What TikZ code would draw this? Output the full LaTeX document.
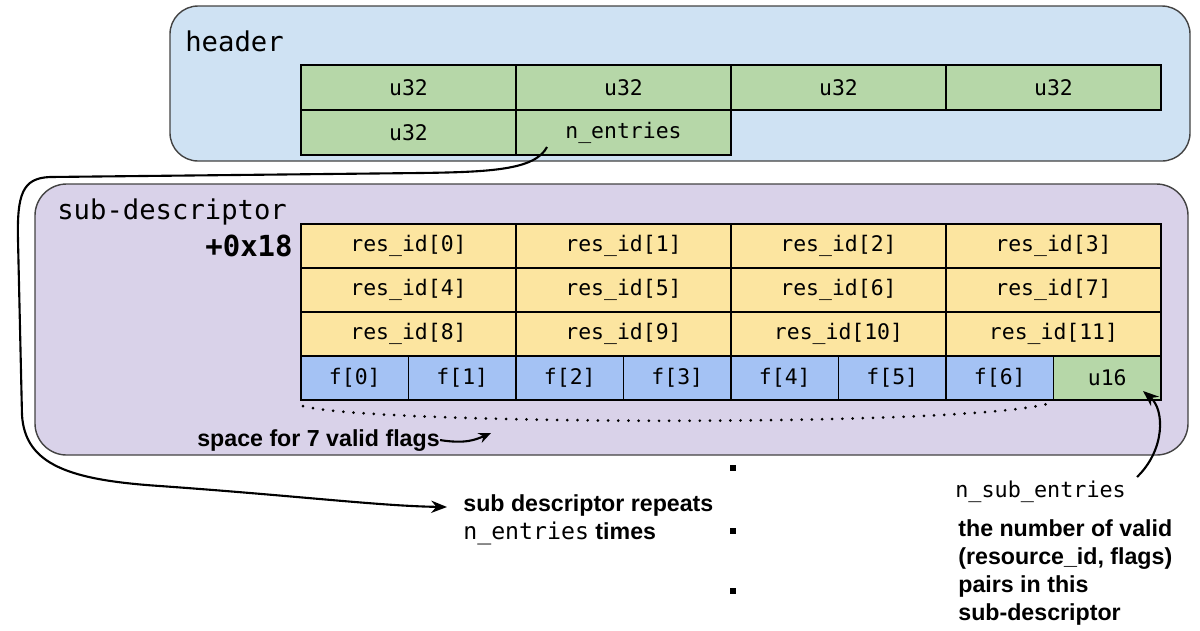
\documentclass[tikz,border=0pt]{standalone}
\usepackage{fontspec}
\setmainfont{Liberation Sans}
\newfontfamily\cellfont{DejaVu Sans Mono}
\usetikzlibrary{arrows.meta}

\definecolor{hdrblue}{HTML}{CFE2F3}
\definecolor{subviolet}{HTML}{D9D2E9}
\definecolor{wordgreen}{HTML}{B6D7A8}
\definecolor{idyellow}{HTML}{FCE5A0}
\definecolor{flagblue}{HTML}{A4C2F4}
\definecolor{edgegray}{HTML}{434343}

\tikzset{
	group/.style={draw=edgegray, line width=0.8pt, rounded corners=16pt},
	field/.style={draw, line width=1.1pt, inner sep=0pt, font=\cellfont\fontsize{12.2}{14}\selectfont},
	wide/.style={field, minimum width=4.3cm},
	narrow/.style={field, minimum width=2.15cm},
	title/.style={inner sep=0pt, font=\cellfont\fontsize{15.5}{18}\selectfont},
	note/.style={inner sep=0pt, align=left, font=\bfseries\fontsize{13.2}{16}\selectfont},
	pointer/.style={line width=1.2pt, -{Stealth[length=9pt, width=7pt]}},
}

\begin{document}
\begin{tikzpicture}[x=0.02cm, y=-0.02cm]
	\useasboundingbox (0,0) rectangle (1200,630);

	% background groups
	\draw[group, fill=hdrblue] (170,6) rectangle (1190,161);
	\draw[group, fill=subviolet, rounded corners=18pt] (35,184) rectangle (1188,455);

	\node[title, anchor=west] (hdrtitle) at (185,41) {header};
	\node[title, anchor=west] (subtitle) at (57,212) {sub-descriptor};
	\node[title, anchor=east, font=\cellfont\bfseries\fontsize{16.5}{18}\selectfont] (offset) at (293,246) {+0x18};

	% header words
	\foreach \i in {0,...,3}
		\node[wide, fill=wordgreen, minimum height=0.9cm] (h\i) at (408.5+215*\i, 87.5) {u32};
	\node[wide, fill=wordgreen, minimum height=0.9cm] (h4) at (408.5, 132.5) {u32};
	\node[wide, fill=wordgreen, minimum height=0.9cm] (nent) at (623.5, 132.5) {n\_entries};

	% resource ids
	\foreach \r in {0,1,2}
		\foreach \c in {0,...,3} {
			\pgfmathtruncatemacro\k{4*\r+\c}
			\node[wide, fill=idyellow, minimum height=0.88cm] (rid\k) at (408.5+215*\c, 246+44*\r) {res\_id[\k]};
		}

	% flags
	\foreach \i in {0,...,6}
		\node[narrow, fill=flagblue, minimum height=0.88cm] (f\i) at (354.75+107.5*\i, 378) {f[\i]};
	\node[narrow, fill=wordgreen, minimum height=0.88cm] (u16) at (1107.25, 378) {u16};

	% space for flags
	\coordinate (dotL) at (303,406);
	\coordinate (dotR) at (1047,404);
	\draw[line width=1.7pt, line cap=round, dash pattern=on 0pt off 5.8pt] (dotL) .. controls (360,424) and (950,428) .. (dotR);
	\node[note, anchor=base west] (spacelbl) at (197,446) {space for 7 valid flags};
	\coordinate (spacetip) at (491,433);
	\draw[line width=1.2pt, -{Stealth[length=7pt, width=6pt]}] (spacelbl.east) .. controls (465,444) and (475,440) .. (spacetip);

	% repeat marks
	\foreach \y in {468,531,591}
		\fill (730,\y-3) rectangle (736,\y+3);

	% repeat loop
	\coordinate (loopstart) at (547,147);
	\coordinate (repeattip) at (447,507);
	\draw[pointer] (loopstart) .. controls (535,170) and (490,172) .. (420,173)
		-- (50,177) .. controls (22,178) and (17,195) .. (18,240)
		-- (22,415) .. controls (25,465) and (70,480) .. (160,486)
		.. controls (300,496) and (380,506) .. (repeattip);
	\node[note, anchor=north west] (repeatlbl) at (463,494) {sub descriptor repeats\\{\cellfont\mdseries n\_entries} times};

	% n_sub_entries
	\node[anchor=base west, inner sep=0pt, font=\cellfont\fontsize{12.4}{15}\selectfont] (nsub) at (955,497) {n\_sub\_entries};
	\node[note, anchor=north west] (nsubdesc) at (958,519) {the number of valid\\(resource\_id, flags)\\pairs in this\\sub-descriptor};
	\coordinate (nsubstart) at (1137,477);
	\coordinate (u16tip) at (1143,391);
	\draw[pointer] (nsubstart) .. controls (1165,450) and (1165,410) .. (u16tip);
\end{tikzpicture}
\end{document}
